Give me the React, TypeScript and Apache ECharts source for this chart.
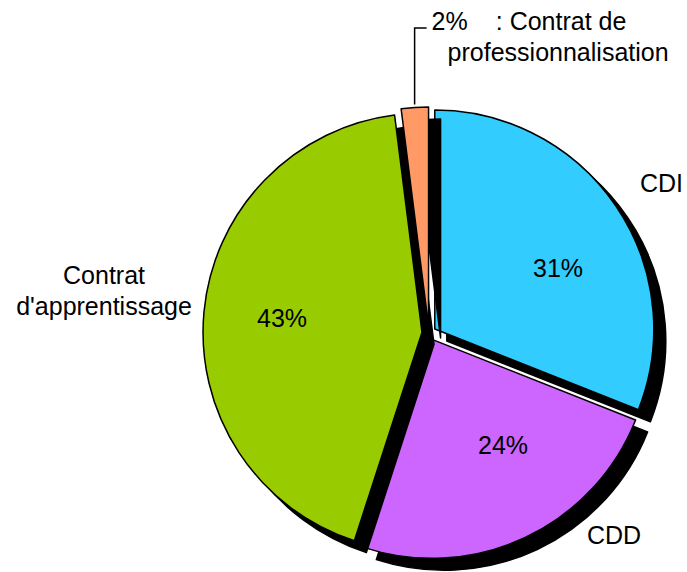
import React, { useEffect, useRef } from "react";
import * as echarts from "echarts";

const categories = ["CDI", "CDD", "Contrat d'apprentissage", "Contrat de professionnalisation"];
const values = [31, 24, 43, 2];
const colors = ["#33CCFF", "#CC66FF", "#99CC00", "#FF9966"];
const nameLabels = ["CDI", "CDD", "Contrat\nd'apprentissage", "{p|2%}{s|: Contrat de}\n{q|professionnalisation}"];

const W = 687;
const H = 572;
const CX = 429;
const CY = 333;
const R = 219;
const EXPLODE = 7;
const SHADOW = 12;
const FONT = "'Liberation Sans', Arial, sans-serif";
const FS = 25;
// label offsets from pie centre (layout only)
const PCT_OFFSETS: ([number, number] | null)[] = [[129, -65], [74, 112], [-147, -15], null];
const NAME_OFFSETS: ([number, number, string] | null)[] = [
  [211, -150, "left"],
  [158, 202, "left"],
  [-325, -43, "center"],
  null,
];

export default function App() {
  const ref = useRef<HTMLDivElement>(null);
  useEffect(() => {
    if (!ref.current) return;
    const chart = echarts.init(ref.current, null, { renderer: "svg" });
    const selData = categories.map((c, i) => ({ name: c, value: values[i], selected: true }));
    const plainData = categories.map((c, i) => ({ name: c, value: values[i] }));
    const common = {
      type: "pie",
      silent: true,
      radius: R,
      startAngle: 90,
      clockwise: true,
      emphasis: { disabled: true },
    };
    chart.setOption({
      animation: false,
      backgroundColor: "#fff",
      series: [
        {
          ...common,
          center: [CX, CY],
          selectedMode: "multiple",
          selectedOffset: EXPLODE,
          label: { show: false },
          labelLine: { show: false },
          itemStyle: {
            borderColor: "#000",
            borderWidth: 1.5,
            shadowColor: "#000",
            shadowBlur: 1,
            shadowOffsetX: SHADOW,
            shadowOffsetY: SHADOW,
          },
          data: selData.map((d, i) => ({ ...d, itemStyle: { color: colors[i] } })),
          z: 2,
        },
        {
          ...common,
          center: [CX, CY],
          selectedMode: false,
          itemStyle: { color: "rgba(0,0,0,0)", borderWidth: 0 },
          label: {
            show: true,
            position: "inside",
            formatter: (p: any) => `${p.value}%`,
            color: "#000",
            fontFamily: FONT,
            fontSize: FS,
          },
          labelLine: { show: false },
          labelLayout: (params: any) => {
            const off = PCT_OFFSETS[params.dataIndex];
            if (!off) return {};
            return { x: CX + off[0], y: CY + off[1], align: "center", verticalAlign: "middle" };
          },
          data: plainData.map((d, i) => ({ ...d, label: { show: i !== 3 } })),
          z: 3,
        },
        {
          ...common,
          center: [CX, CY],
          selectedMode: false,
          itemStyle: { color: "rgba(0,0,0,0)", borderWidth: 0 },
          label: {
            show: true,
            position: "inside",
            color: "#000",
            fontFamily: FONT,
            fontSize: FS,
            lineHeight: 31,
            formatter: (p: any) => nameLabels[p.dataIndex],
            rich: {
              p: { fontFamily: FONT, fontSize: FS, color: "#000", lineHeight: 31 },
              s: { fontFamily: FONT, fontSize: FS, color: "#000", lineHeight: 31, padding: [0, 0, 0, 28] },
              q: { fontFamily: FONT, fontSize: FS, color: "#000", lineHeight: 31, padding: [0, 0, 0, 16] },
            },
          },
          labelLine: { show: false, length: 60, length2: 12, lineStyle: { color: "#000", width: 1.5 } },
          labelLayout: (params: any) => {
            const i = params.dataIndex;
            const off = NAME_OFFSETS[i];
            if (off) {
              return { x: CX + off[0], y: CY + off[1], align: off[2], verticalAlign: "middle" };
            }
            const pts = params.labelLinePoints;
            const e0 = pts ? pts[0] : [CX, CY - R];
            const k = (R + EXPLODE + 3) / R;
            const p0 = [CX + (e0[0] - CX) * k, CY + (e0[1] - CY) * k];
            const topY = 28;
            const endX = p0[0] + 12;
            return {
              x: endX + 5,
              y: 5,
              align: "left",
              verticalAlign: "top",
              labelLinePoints: [
                [p0[0], p0[1]],
                [p0[0], topY],
                [endX, topY],
              ],
            };
          },
          data: plainData.map((d, i) =>
            i === 3
              ? { ...d, label: { position: "outside" }, labelLine: { show: true } }
              : d
          ),
          z: 4,
        },
      ],
    });
    return () => chart.dispose();
  }, []);
  return (
    <div
      ref={ref}
      style={{ position: "fixed", left: 0, top: 0, width: W, height: H, background: "#fff" }}
    />
  );
}
